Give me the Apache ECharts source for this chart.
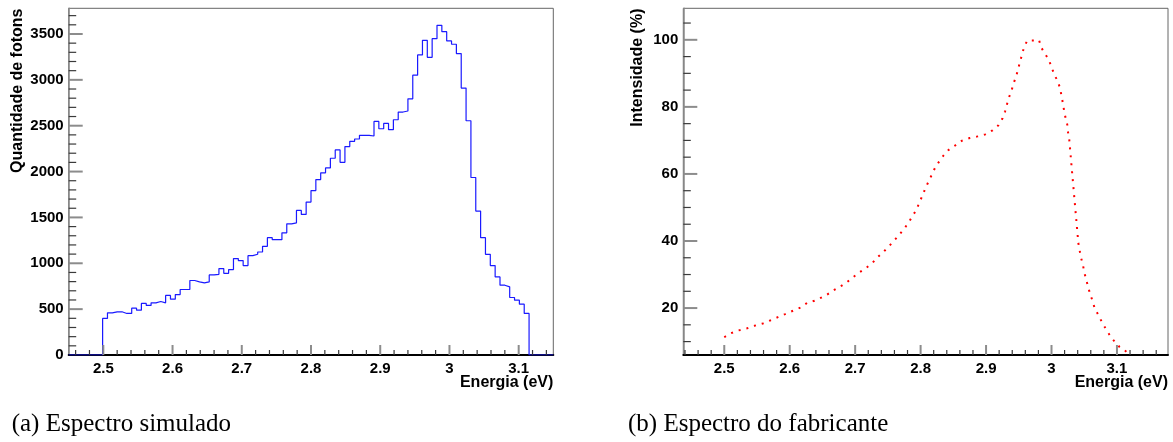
<!DOCTYPE html>
<html>
<head>
<meta charset="utf-8">
<script src="https://cdn.jsdelivr.net/npm/echarts@6/dist/echarts.min.js"></script>
<style>
html,body{margin:0;padding:0;background:#fff;}
#chart{width:1173px;height:442px;}
</style>
</head>
<body>
<div id="chart"></div>
<script>
// ---- (a) simulated spectrum: histogram, 100 bins from 2.45 to 3.15 eV ----
const binStart = 2.45;
const binWidth = 0.007;
const photonCounts = [
  0, 0, 0, 0, 0, 0, 0,
  399, 460, 471, 471, 453, 453, 511, 489, 562, 540,
  569, 583, 569, 649, 609, 659, 714, 714, 812, 797,
  786, 797, 873, 880, 942, 891, 931, 1051, 1029, 975,
  1083, 1098, 1123, 1185, 1279, 1257, 1257, 1332, 1430, 1440,
  1576, 1533, 1667, 1793, 1913, 1986, 2040, 2145, 2236, 2101,
  2272, 2330, 2355, 2395, 2395, 2388, 2547, 2467, 2525, 2457,
  2565, 2649, 2660, 2793, 3051, 3272, 3431, 3246, 3449, 3594,
  3525, 3424, 3388, 3286, 2910, 2554, 1935, 1569, 1279, 1098,
  975, 851, 761, 743, 627, 598, 554, 453,
  0, 0, 0, 0, 0
];

// ---- (b) manufacturer spectrum ----
const energyB = [
  2.500, 2.509, 2.521, 2.534, 2.546, 2.559, 2.570, 2.582, 2.593, 2.605,
  2.617, 2.627, 2.638, 2.646, 2.657, 2.667, 2.678, 2.688, 2.697, 2.707,
  2.717, 2.727, 2.735, 2.744, 2.752, 2.760, 2.768, 2.775, 2.782, 2.788,
  2.794, 2.798, 2.803, 2.807, 2.812, 2.817, 2.822, 2.828, 2.835, 2.843,
  2.853, 2.863, 2.875, 2.887, 2.899, 2.910, 2.919, 2.925, 2.929, 2.932,
  2.935, 2.939, 2.942, 2.946, 2.949, 2.952, 2.955, 2.958, 2.963, 2.976,
  2.981, 2.984, 2.990, 2.996, 3.000, 3.004, 3.009, 3.013, 3.015, 3.017,
  3.019, 3.021, 3.024, 3.025, 3.027, 3.028, 3.029, 3.030, 3.031, 3.032,
  3.033, 3.034, 3.035, 3.036, 3.037, 3.038, 3.039, 3.040, 3.041, 3.043,
  3.045, 3.048, 3.050, 3.053, 3.056, 3.059, 3.063, 3.066, 3.072, 3.077,
  3.083, 3.089, 3.096, 3.104, 3.113, 3.117
];
const intensityB = [
  11.3, 12.4, 13.3, 13.9, 14.7, 15.4, 16.3, 17.3, 18.2, 19.2,
  20.2, 21.6, 22.2, 22.9, 24.0, 25.3, 26.5, 27.8, 29.2, 30.7,
  32.0, 33.6, 35.3, 36.9, 38.5, 40.2, 42.0, 43.7, 45.6, 47.6,
  49.4, 51.5, 53.6, 55.6, 57.7, 59.7, 61.8, 63.6, 65.5, 67.2,
  68.5, 69.9, 70.7, 71.2, 71.8, 73.0, 74.5, 76.5, 78.6, 80.8,
  82.8, 84.9, 87.0, 89.1, 91.3, 93.5, 95.6, 97.8, 99.8, 99.8,
  99.9, 97.8, 95.9, 94.0, 91.9, 89.8, 87.8, 85.7, 83.6, 81.5,
  79.2, 77.1, 74.8, 72.7, 70.5, 68.3, 66.0, 63.8, 61.5, 59.3,
  57.1, 54.9, 52.6, 50.5, 48.2, 46.0, 43.8, 41.6, 39.4, 37.2,
  35.1, 32.9, 30.7, 28.5, 26.3, 24.2, 22.0, 19.9, 17.8, 15.8,
  13.8, 11.9, 10.1, 8.4, 7.2, 6.6
];

const yTitleA = 'Quantidade de fotons';
const yTitleB = 'Intensidade (%)';
const xTitle = 'Energia (eV)';
const captionA = '(a) Espectro simulado';
const captionB = '(b) Espectro do fabricante';

// axis extents
const xRangeA = [2.45, 3.15], yRangeA = [0, 3780];
const xRangeB = [2.4374, 3.178], yRangeB = [6, 109.4];

const histData = photonCounts.map((c, i) => [+(binStart + i * binWidth).toFixed(4), c]);
histData.push([+(binStart + photonCounts.length * binWidth).toFixed(4), 0]);
const lineB = energyB.map((e, i) => [e, intensityB[i]]);

// tick marks (ROOT style, drawn inside the frame): [value, isMajor]
function tickList(range, minorStep, majorEvery) {
  const out = [];
  const start = Math.ceil(range[0] / minorStep - 1e-9);
  const end = Math.floor(range[1] / minorStep + 1e-9);
  for (let k = start; k <= end; k++) {
    const v = +(k * minorStep).toFixed(6);
    if (v <= range[0] + 1e-9 || v >= range[1] - 1e-9) continue;
    out.push([v, k % majorEvery === 0 ? 1 : 0]);
  }
  return out;
}
const xTicksA = tickList(xRangeA, 0.02, 5);
const yTicksA = tickList(yRangeA, 100, 5);
const xTicksB = tickList(xRangeB, 0.02, 5);
const yTicksB = tickList(yRangeB, 5, 4);

const SANS = 'Liberation Sans, Arial, Helvetica, sans-serif';
const plainNum = v => String(+v.toFixed(6));
const labelStyle = { fontFamily: SANS, fontWeight: 'bold', fontSize: 15, color: '#000', formatter: plainNum };

function xAxisCfg(grid, range) {
  return {
    type: 'value', gridIndex: grid, min: range[0], max: range[1], splitNumber: 7, z: 5,
    axisLine: { show: true, onZero: false, lineStyle: { color: '#000', width: 2 } },
    axisTick: { show: false }, minorTick: { show: false },
    splitLine: { show: false }, minorSplitLine: { show: false },
    axisLabel: Object.assign({ margin: 6, showMinLabel: false, showMaxLabel: false }, labelStyle)
  };
}
function yAxisCfg(grid, range, extra, hideMin) {
  return Object.assign({
    type: 'value', gridIndex: grid, min: range[0], max: range[1], z: 5,
    axisLine: { show: true, onZero: false, lineStyle: { color: '#888', width: 1.5 } },
    axisTick: { show: false }, minorTick: { show: false },
    splitLine: { show: false }, minorSplitLine: { show: false },
    axisLabel: Object.assign({ margin: 5, showMinLabel: !hideMin, showMaxLabel: false }, labelStyle)
  }, extra);
}

function tickSeries(gi, ticks, isX, range) {
  return {
    type: 'custom', xAxisIndex: gi, yAxisIndex: gi, z: 7, clip: false, silent: true,
    data: ticks,
    renderItem: function (params, api) {
      const v = api.value(0), major = api.value(1) === 1;
      let p, x2, y2;
      if (isX) {
        p = api.coord([v, range[0]]);
        const len = major ? 10 : 5;
        x2 = p[0]; y2 = p[1] - len;
      } else {
        p = api.coord([range[0], v]);
        const len = major ? 14 : 7.5;
        x2 = p[0] + len; y2 = p[1];
      }
      return {
        type: 'line',
        shape: { x1: p[0], y1: p[1], x2: x2, y2: y2 },
        style: { stroke: major ? '#8c8c8c' : '#3a3a3a', lineWidth: major ? 2 : 1.2 }
      };
    }
  };
}

const chart = echarts.init(document.getElementById('chart'), null, { renderer: 'canvas' });
chart.setOption({
  animation: false,
  backgroundColor: '#fff',
  grid: [
    { left: 68.7, top: 8.3, width: 484.6, height: 346.7, show: true, borderColor: '#666', borderWidth: 1, backgroundColor: 'rgba(0,0,0,0)' },
    { left: 683.3, top: 8.3, width: 484.7, height: 346.7, show: true, borderColor: '#666', borderWidth: 1, backgroundColor: 'rgba(0,0,0,0)' }
  ],
  xAxis: [
    xAxisCfg(0, xRangeA),
    xAxisCfg(1, xRangeB)
  ],
  yAxis: [
    yAxisCfg(0, yRangeA, { interval: 500 }, false),
    yAxisCfg(1, yRangeB, { splitNumber: 5 }, true)
  ],
  series: [
    {
      type: 'line', xAxisIndex: 0, yAxisIndex: 0, data: histData, step: 'end', z: 6,
      showSymbol: false, symbol: 'none', clip: true,
      lineStyle: { color: '#1a1aff', width: 1.2 }
    },
    {
      type: 'line', xAxisIndex: 1, yAxisIndex: 1, data: lineB, z: 6,
      showSymbol: false, symbol: 'none', clip: true, smooth: false,
      lineStyle: { color: '#ff0000', width: 2, type: [2, 6] }
    },
    tickSeries(0, xTicksA, true, yRangeA),
    tickSeries(0, yTicksA, false, xRangeA),
    tickSeries(1, xTicksB, true, yRangeB),
    tickSeries(1, yTicksB, false, xRangeB)
  ],
  graphic: [
    { type: 'text', x: 18, y: 8.5, rotation: Math.PI / 2,
      style: { text: yTitleA, font: 'bold 16px ' + SANS, fill: '#000', align: 'right', verticalAlign: 'middle' } },
    { type: 'text', x: 637.5, y: 8.5, rotation: Math.PI / 2,
      style: { text: yTitleB, font: 'bold 16px ' + SANS, fill: '#000', align: 'right', verticalAlign: 'middle' } },
    { type: 'text', x: 553.3, y: 383,
      style: { text: xTitle, font: 'bold 16px ' + SANS, fill: '#000', align: 'right', verticalAlign: 'middle' } },
    { type: 'text', x: 1168, y: 383,
      style: { text: xTitle, font: 'bold 16px ' + SANS, fill: '#000', align: 'right', verticalAlign: 'middle' } },
    { type: 'text', x: 11.7, y: 424,
      style: { text: captionA, font: '25px "Liberation Serif", "Times New Roman", serif', fill: '#000', align: 'left', verticalAlign: 'middle' } },
    { type: 'text', x: 628, y: 424,
      style: { text: captionB, font: '25px "Liberation Serif", "Times New Roman", serif', fill: '#000', align: 'left', verticalAlign: 'middle' } }
  ]
});
</script>
</body>
</html>
